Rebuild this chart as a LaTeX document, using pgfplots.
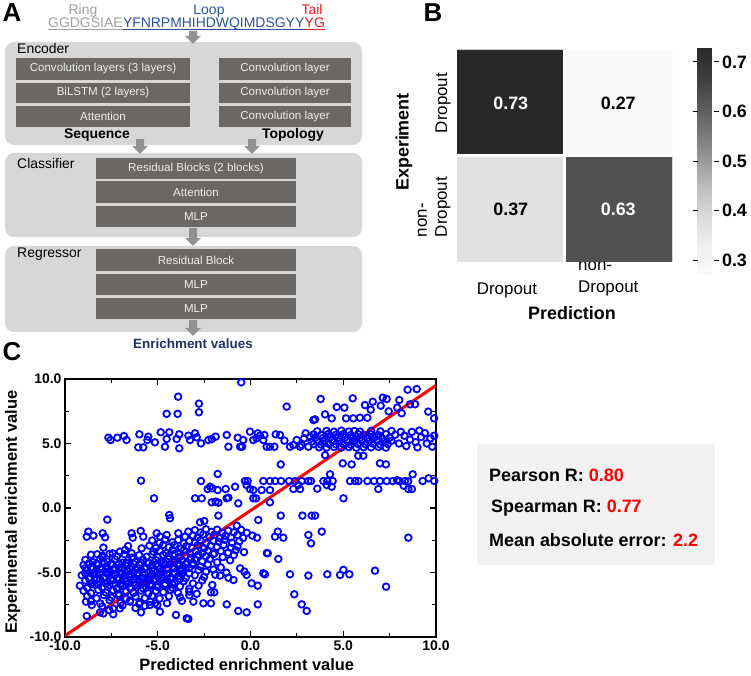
\documentclass[border=0pt]{standalone}
\usepackage{pgfplots}
\pgfplotsset{compat=1.18}
\usepackage{fontspec}
\setmainfont{Liberation Sans}
\definecolor{panelbg}{RGB}{215,215,215}
\definecolor{darkbox}{RGB}{106,103,101}
\definecolor{boxtxt}{RGB}{238,238,238}
\definecolor{arrowgray}{RGB}{145,145,145}
\definecolor{ringgray}{RGB}{160,160,160}
\definecolor{loopblue}{RGB}{40,80,160}
\definecolor{tailred}{RGB}{235,25,25}
\definecolor{navy}{RGB}{30,50,105}
\definecolor{statbg}{RGB}{242,242,242}
\definecolor{ptblue}{RGB}{0,0,255}
\newcommand\dbox[5]{\fill[darkbox] (#1,#2) rectangle (#3,#4);
  \node[text=boxtxt, inner sep=0, font=\fontsize{11.6}{13}\selectfont] at ({(#1+#3)/2},{(#2+#4)/2}) {#5};}
\newcommand\garrow[3]{\fill[arrowgray] ({#1-4},#2) -- ({#1+4},#2) -- ({#1+4},{#3-8}) -- ({#1+8},{#3-8}) -- (#1,#3) -- ({#1-8},{#3-8}) -- ({#1-4},{#3-8}) -- cycle;}
\begin{document}
\begin{tikzpicture}
\useasboundingbox (0,0) rectangle (751bp,676bp);
\begin{scope}[x=1bp,y=-1bp,yshift=676bp]
% ---------------- Panel A ----------------
\node[font=\fontsize{26}{28}\selectfont\bfseries, inner sep=0] at (12,13) {A};
\node[inner sep=0, anchor=base, text=ringgray, font=\fontsize{14}{16}\selectfont] at (83,15) {Ring};
\node[inner sep=0, anchor=base, text=loopblue, font=\fontsize{14}{16}\selectfont] at (209,15) {Loop};
\node[inner sep=0, anchor=base, text=tailred, font=\fontsize{14}{16}\selectfont] at (312,15) {Tail};
\node[anchor=base west, inner sep=0, text=ringgray, font=\fontsize{14}{16}\selectfont] (s1) at (48,28) {GGDGSIAE};
\node[anchor=base west, inner sep=0, text=loopblue, font=\fontsize{14}{16}\selectfont] (s2) at (s1.base east) {YFNRPMHIHDWQIMDSGYY};
\node[anchor=base west, inner sep=0, text=tailred, font=\fontsize{14}{16}\selectfont] (s3) at (s2.base east) {YG};
\draw[ringgray, line width=1bp] ([yshift=-2bp]s1.base west) -- ([yshift=-2bp]s1.base east);
\draw[loopblue, line width=1bp] ([yshift=-2bp]s2.base west) -- ([yshift=-2bp]s2.base east);
\draw[tailred, line width=1bp] ([yshift=-2bp]s3.base west) -- ([yshift=-2bp]s3.base east);
\fill[panelbg, rounded corners=9bp] (5,42) rectangle (362,145);
\fill[panelbg, rounded corners=9bp] (5,153) rectangle (362,237);
\fill[panelbg, rounded corners=9bp] (5,246) rectangle (362,332);
\dbox{16}{58}{190}{80}{Convolution layers (3 layers)}
\dbox{16}{83}{190}{103}{BiLSTM (2 layers)}
\dbox{16}{106}{190}{127}{Attention}
\dbox{219}{58}{351}{80}{Convolution layer}
\dbox{219}{83}{351}{103}{Convolution layer}
\dbox{219}{106}{351}{127}{Convolution layer}
\dbox{96}{158}{296}{179}{Residual Blocks (2 blocks)}
\dbox{96}{181}{296}{203}{Attention}
\dbox{96}{206}{296}{227}{MLP}
\dbox{96}{249}{296}{271}{Residual Block}
\dbox{96}{274}{296}{295}{MLP}
\dbox{96}{298}{296}{319}{MLP}
\garrow{193}{31}{44}
\garrow{140}{139}{154}
\garrow{252}{139}{154}
\garrow{193}{228}{246}
\garrow{193}{320}{336}
\node[anchor=west, inner sep=0, font=\fontsize{14}{16}\selectfont] at (17,49) {Encoder};
\node[anchor=west, inner sep=0, font=\fontsize{14}{16}\selectfont] at (17,164) {Classifier};
\node[anchor=west, inner sep=0, font=\fontsize{14}{16}\selectfont] at (17,254) {Regressor};
\node[inner sep=0, font=\fontsize{14}{16}\selectfont\bfseries] at (97,135) {Sequence};
\node[inner sep=0, font=\fontsize{14}{16}\selectfont\bfseries] at (293,135) {Topology};
\node[inner sep=0, text=navy, font=\fontsize{13.5}{15}\selectfont\bfseries] at (193,344) {Enrichment values};
% ---------------- Panel B texts ----------------
\node[font=\fontsize{26}{28}\selectfont\bfseries, inner sep=0] at (433,13) {B};
\node[rotate=90, inner sep=0, font=\fontsize{18}{20}\selectfont\bfseries] at (404,142) {Experiment};
\node[rotate=90, inner sep=0, font=\fontsize{17}{20}\selectfont] at (443,103) {Dropout};
\node[rotate=90, inner sep=0, align=left, font=\fontsize{17}{20}\selectfont] at (434,207) {non-\\Dropout};
\node[inner sep=0, font=\fontsize{17}{20}\selectfont] at (507,290) {Dropout};
\node[anchor=west, inner sep=0, align=left, font=\fontsize{17}{22}\selectfont] at (578,279) {non-\\Dropout};
\node[inner sep=0, font=\fontsize{18}{20}\selectfont\bfseries] at (572,313) {Prediction};
% ---------------- Panel C texts ----------------
\node[font=\fontsize{26}{28}\selectfont\bfseries, inner sep=0] at (12,352) {C};
\fill[statbg] (477,444) rectangle (715,565);
\node[anchor=base west, inner sep=0, font=\fontsize{18}{20}\selectfont\bfseries] at (489,482) {Pearson R: \textcolor{red}{0.80}};
\node[anchor=base west, inner sep=0, font=\fontsize{18}{20}\selectfont\bfseries] at (491,513) {Spearman R: \textcolor{red}{0.77}};
\node[anchor=base west, inner sep=0, font=\fontsize{18}{20}\selectfont\bfseries] at (489,547) {Mean absolute error: \textcolor{red}{2.2}};
\end{scope}

% ---------------- Panel B heatmap ----------------
\begin{axis}[at={(457bp,414bp)}, anchor=south west, width=215bp, height=212bp, scale only axis,
  xmin=-0.5, xmax=1.5, ymin=-0.5, ymax=1.5, axis line style={draw=none}, xtick=\empty, ytick=\empty,
  colormap={imggreys}{rgb255=(250,250,250) rgb255=(240,240,240) rgb255=(220,220,220) rgb255=(192,192,192) rgb255=(155,155,155) rgb255=(120,120,120) rgb255=(88,88,88) rgb255=(60,60,60) rgb255=(40,40,40)},
  point meta min=0.27, point meta max=0.73,
  colorbar,
  colorbar style={at={(parent axis.north east)}, anchor=north west, xshift=17bp, yshift=3bp,
    width=16bp, height=228bp, scale only axis, axis line style={draw=none},
    ytick={0.3,0.4,0.5,0.6,0.7}, yticklabels={0.3,0.4,0.5,0.6,0.7},
    yticklabel style={font=\fontsize{18}{20}\selectfont\bfseries},
    major tick length=5bp, tick align=outside, ytick style={black, line width=0.8bp},
    yticklabel pos=right}]
\addplot[matrix plot*, mesh/cols=2, point meta=explicit] table[meta=c, row sep=\\] {x y c\\ 0 0 0.37\\ 1 0 0.63\\ 0 1 0.73\\ 1 1 0.27\\};
\draw[white, line width=3bp] (axis cs:0.5,-0.5) -- (axis cs:0.5,1.5);
\draw[white, line width=3bp] (axis cs:-0.5,0.5) -- (axis cs:1.5,0.5);
\node[text=white, font=\fontsize{18}{20}\selectfont\bfseries] at (axis cs:0,1) {0.73};
\node[text=black, font=\fontsize{18}{20}\selectfont\bfseries] at (axis cs:1,1) {0.27};
\node[text=black, font=\fontsize{18}{20}\selectfont\bfseries] at (axis cs:0,0) {0.37};
\node[text=white, font=\fontsize{18}{20}\selectfont\bfseries] at (axis cs:1,0) {0.63};
\end{axis}

% ---------------- Panel C scatter ----------------
\begin{axis}[at={(65bp,39bp)}, anchor=south west, width=371bp, height=258bp, scale only axis,
  xmin=-10, xmax=10, ymin=-10, ymax=10,
  xtick={-10,-5,0,5,10}, ytick={-10,-5,0,5,10},
  xticklabels={-10.0,-5.0,0.0,5.0,10.0}, yticklabels={-10.0,-5.0,0.0,5.0,10.0},
  minor tick num=1, tick align=inside, xtick pos=both, ytick pos=both,
  major tick length=6bp, minor tick length=4bp,
  axis line style={line width=1.8bp},
  every tick/.append style={black, line width=1.1bp},
  ticklabel style={font=\fontsize{14}{15}\selectfont\bfseries},
  xlabel={Predicted enrichment value}, ylabel={Experimental enrichment value},
  label style={font=\fontsize{16.5}{18}\selectfont\bfseries},
  xlabel style={at={(axis description cs:0.49,-0.108)}, anchor=center},
  ylabel style={at={(axis description cs:-0.141,0.485)}, anchor=center}]
\addplot[only marks, mark=o, mark size=3.3bp, ptblue, mark options={line width=1.8bp}] table[row sep=\\] {x y\\
-0.5 9.74\\ -3.9 8.63\\ -4.52 7.3\\ -3.93 7.3\\ -2.78 8.09\\ -2.78 7.42\\ 1.95 7.86\\ 3.39 6.82\\ 3.78 8.45\\ 3.48 6.87\\
4.02 7.26\\ 4.38 6.95\\ 4.65 7.83\\ 5.06 7.78\\ 5.51 8.5\\ 5.15 6.95\\ 5.54 6.95\\ 5.9 7.0\\ 6.3 7.0\\ 6.17 7.98\\
6.59 8.24\\ 6.48 7.62\\ 7.02 7.93\\ 7.13 8.55\\ 7.34 8.45\\ 7.91 7.78\\ 8.02 8.37\\ 8.15 7.34\\ 8.47 9.17\\ 8.96 9.22\\
8.6 8.04\\ 8.87 8.04\\ 9.58 7.47\\ 9.9 6.95\\ 7.45 7.49\\
-7.66 5.45\\ -7.54 5.27\\ -7.18 5.45\\ -6.82 5.58\\ -6.68 5.27\\ -5.99 5.71\\ -6.05 4.7\\ -5.78 4.7\\ -5.51 5.53\\ -5.56 5.27\\
-5.15 5.09\\ -4.84 5.87\\ -4.38 5.87\\ -4.52 5.35\\ -4.61 4.75\\ -3.98 5.35\\ -3.84 5.71\\ -3.84 4.63\\ -3.35 5.61\\ -3.26 5.27\\
-2.99 5.79\\ -2.9 5.48\\ -2.67 5.01\\ -2.27 5.27\\ -2.09 5.35\\ -1.88 5.53\\ -1.28 5.66\\ -1.19 4.75\\ -0.69 5.45\\ -0.56 4.75\\
-0.45 4.75\\ -0.39 5.27\\ -0.03 5.92\\ 0.15 5.27\\ 0.33 5.4\\ 0.39 5.79\\ 0.51 5.61\\ 0.69 5.27\\ 0.75 5.66\\ 0.87 4.75\\
1.05 4.75\\ 1.29 4.75\\ 1.36 5.71\\ 1.59 5.66\\ 1.83 5.22\\ 2.13 4.75\\ 2.31 4.88\\ 2.49 5.27\\ 2.67 4.75\\ 2.76 4.88\\
2.9 5.4\\ 2.97 5.79\\ 3.12 4.75\\ 3.3 5.14\\ 3.21 5.53\\
3.6 5.95\\ 4.1 5.98\\ 4.5 5.92\\ 4.9 6.0\\ 5.3 5.93\\ 5.6 5.97\\ 5.9 5.92\\ 6.5 5.98\\ 7.0 5.94\\ 7.6 5.97\\
3.4 5.7\\ 3.8 5.66\\ 4.2 5.74\\ 4.6 5.68\\ 5.0 5.72\\ 5.4 5.66\\ 5.8 5.73\\ 6.1 5.68\\ 6.5 5.71\\ 6.9 5.65\\ 7.3 5.72\\ 7.8 5.68\\
3.5 5.45\\ 3.9 5.42\\ 4.3 5.48\\ 4.7 5.43\\ 5.1 5.47\\ 5.5 5.41\\ 5.9 5.46\\ 6.3 5.44\\ 6.7 5.49\\ 7.1 5.42\\ 7.5 5.46\\
3.6 5.2\\ 4.0 5.17\\ 4.4 5.23\\ 4.8 5.18\\ 5.2 5.22\\ 5.6 5.16\\ 6.0 5.21\\ 6.4 5.19\\ 6.8 5.24\\ 7.2 5.17\\ 7.6 5.21\\
3.4 4.95\\ 3.8 4.92\\ 4.2 4.98\\ 4.6 4.93\\ 5.0 4.97\\ 5.4 4.91\\ 5.8 4.96\\ 6.2 4.94\\ 6.6 4.99\\ 7.0 4.92\\ 7.4 4.96\\
3.7 4.7\\ 4.1 4.68\\ 4.5 4.73\\ 4.9 4.69\\ 5.3 4.72\\ 5.7 4.67\\ 6.1 4.71\\ 6.5 4.7\\ 6.9 4.74\\ 7.3 4.68\\
8.1 5.9\\ 8.3 5.6\\ 8.4 4.8\\ 8.6 5.3\\ 8.7 5.9\\ 8.9 5.1\\ 9.0 4.7\\ 9.2 5.5\\ 9.4 5.8\\ 9.5 5.0\\ 9.7 5.4\\ 9.8 4.75\\ 9.9 5.6\\ 8.0 5.0\\ 9.1 6.0\\
4.02 4.1\\ 4.97 3.46\\ 5.45 3.38\\ 5.81 4.05\\ 6.08 4.05\\ 6.98 3.46\\ 7.3 3.38\\ 1.63 3.38\\
-5.9 2.12\\ -2.67 2.09\\ -1.77 2.64\\ -2.18 1.65\\ -2.06 1.52\\ -2.31 1.47\\ -1.77 1.39\\ -1.34 1.47\\ -0.83 1.65\\ -0.3 2.09\\
-0.15 2.09\\ -0.21 1.78\\ -0.03 1.47\\ 0.15 1.39\\ 0.6 1.39\\ 0.69 2.09\\ 1.05 2.09\\ 1.32 2.09\\ 1.65 2.09\\ 1.05 1.39\\
2.08 2.09\\ 2.4 2.09\\ 2.58 1.78\\ 2.76 2.09\\ 2.31 1.47\\ 2.67 1.47\\ 3.12 2.09\\ 3.26 2.09\\ 3.93 2.09\\ 4.14 2.09\\
4.43 2.09\\ 3.6 1.5\\ 4.11 1.78\\ 4.38 1.65\\ 4.29 2.61\\ 5.37 2.09\\ 5.64 2.09\\ 5.82 2.09\\ 6.3 2.09\\ 6.66 2.09\\
6.98 2.09\\ 7.34 2.09\\ 7.67 2.09\\ 8.03 2.09\\ 8.33 2.09\\ 9.28 2.09\\ 6.89 1.47\\ 8.51 1.47\\ 8.74 2.61\\ 5.01 0.75\\
7.9 2.15\\ 8.5 2.07\\ 9.6 2.3\\ 9.9 2.1\\ 8.26 1.73\\ 8.7 1.47\\
-5.2 0.75\\ -2.99 0.75\\ -2.63 0.75\\ -2.09 0.44\\ -1.88 0.49\\ -1.73 0.41\\ -1.28 0.75\\ -1.19 0.8\\ -0.66 0.36\\ 0.15 0.75\\ 0.3 0.75\\ 1.05 0.44\\
-1.73 -0.59\\ -2.49 -1.01\\ -0.74 -1.37\\ 0.42 -0.93\\ 1.63 -0.59\\ 2.8 -0.59\\ 3.3 -0.59\\ 1.32 -2.22\\ 1.47 -1.83\\ 1.77 -2.3\\
3.12 -2.09\\ 3.26 -2.74\\ 3.84 -1.83\\ 0.93 -3.51\\ 1.5 -3.95\\ 2.13 -5.14\\ 3.12 -5.24\\ 0.69 -5.06\\ 0.78 -5.14\\ -0.56 -4.68\\
-0.33 -4.93\\ -0.21 -5.19\\ 0.06 -5.84\\ 0.39 -6.02\\ -1.19 -5.4\\ -0.92 -5.58\\ -1.64 -5.24\\ -2.06 -5.97\\ -2.13 -6.54\\ -1.95 -6.54\\
-2.54 -7.39\\ -2.13 -7.39\\ -3.08 -7.26\\ -1.28 -7.47\\ -0.66 -7.98\\ -0.21 -8.09\\ 0.39 -7.47\\ -3.35 -8.6\\ 2.36 -6.69\\ 2.76 -7.47\\
3.03 -7.98\\ 4.14 -5.14\\ 4.83 -5.19\\ 5.01 -4.8\\ 5.33 -5.14\\ 6.71 -4.86\\ 7.31 -6.1\\ 8.51 -2.3\\ 3.48 -0.59\\
-4.38 -0.54\\ -4.34 -0.8\\ -7.72 -0.9\\ -2.72 -1.11\\ 0.88 -3.49\\
-8.87 -7.26\\ -8.83 -8.37\\ -8.56 -7.52\\ -8.11 -8.09\\ -7.93 -8.17\\ -7.61 -7.91\\ -7.4 -8.24\\ -7.04 -7.78\\ -6.5 -7.26\\ -5.9 -8.09\\
-5.96 -7.31\\ -5.42 -7.52\\ -5.15 -7.39\\ -4.88 -8.04\\ -5.02 -7.52\\ -4.02 -8.29\\ -3.44 -8.55\\
-8.74 -1.83\\ -7.97 -1.96\\ -5.92 -1.78\\ -5.06 -1.96\\ -3.89 -1.96\\ -3.35 -1.83\\ -3.0 -1.72\\ -2.7 -1.9\\ -2.4 -1.65\\ -2.1 -1.85\\
-1.8 -1.68\\ -1.5 -1.94\\ -1.2 -1.76\\ -0.9 -1.88\\ -0.5 -1.7\\ -0.2 -1.92\\
-8.83 -2.22\\ -8.47 -2.14\\ -7.84 -2.27\\ -6.41 -1.96\\ -6.35 -2.3\\ -5.78 -2.22\\ -4.88 -2.22\\ -4.52 -2.09\\ -3.53 -2.22\\ -3.1 -2.12\\
-2.85 -2.3\\ -2.55 -2.05\\ -2.2 -2.25\\ -1.95 -2.08\\ -1.65 -2.34\\ -1.35 -2.16\\ -1.05 -2.28\\ -0.7 -2.1\\ -0.4 -2.32\\ 0.1 -2.14\\ 0.35 -2.3\\
-5.3 -2.52\\ -4.9 -2.7\\ -4.6 -2.45\\ -4.2 -2.65\\ -3.9 -2.48\\ -3.6 -2.74\\ -3.3 -2.56\\ -3.0 -2.68\\ -2.7 -2.5\\ -2.4 -2.72\\
-2.0 -2.54\\ -1.7 -2.62\\ -1.4 -2.46\\ -1.0 -2.69\\ -0.6 -2.58\\
-7.93 -3.07\\ -6.6 -2.95\\ -5.45 -2.92\\ -5.1 -3.1\\ -4.7 -2.85\\ -4.4 -3.05\\ -4.1 -2.88\\ -3.75 -3.14\\ -3.45 -2.96\\ -3.15 -3.08\\
-2.85 -2.9\\ -2.5 -3.12\\ -2.15 -2.94\\ -1.8 -3.02\\ -1.45 -2.86\\ -1.05 -3.09\\ -0.7 -2.98\\
-8.26 -3.59\\ -7.97 -3.7\\ -7.43 -3.51\\ -7.04 -3.38\\ -6.77 -3.25\\ -6.41 -3.51\\ -5.87 -3.13\\ -5.24 -3.38\\ -4.9 -3.32\\ -4.55 -3.5\\
-4.2 -3.25\\ -3.9 -3.45\\ -3.6 -3.28\\ -3.25 -3.54\\ -2.95 -3.36\\ -2.6 -3.48\\ -2.3 -3.3\\ -1.95 -3.52\\ -1.6 -3.34\\ -1.2 -3.46\\ -0.8 -3.27\\ -0.35 -3.42\\
-8.6 -3.62\\ -8.0 -3.8\\ -7.6 -3.55\\ -7.2 -3.75\\ -6.8 -3.58\\ -6.4 -3.84\\ -6.0 -3.66\\ -5.6 -3.78\\ -5.3 -3.6\\ -5.0 -3.82\\
-4.7 -3.64\\ -4.4 -3.72\\ -4.1 -3.56\\ -3.8 -3.79\\ -3.5 -3.68\\ -3.2 -3.85\\ -2.8 -3.61\\ -2.4 -3.74\\ -2.0 -3.57\\ -1.5 -3.81\\ -0.9 -3.65\\
-8.9 -4.02\\ -8.5 -4.2\\ -8.1 -3.95\\ -7.7 -4.15\\ -7.3 -3.98\\ -6.9 -4.24\\ -6.6 -4.06\\ -6.2 -4.18\\ -5.8 -4.0\\ -5.5 -4.22\\
-5.1 -4.04\\ -4.8 -4.12\\ -4.4 -3.96\\ -4.1 -4.19\\ -3.7 -4.08\\ -3.4 -4.25\\ -3.0 -4.01\\ -2.6 -4.14\\ -2.2 -3.97\\ -1.8 -4.21\\ -1.1 -4.05\\
-9.0 -4.42\\ -8.6 -4.6\\ -8.2 -4.35\\ -7.8 -4.55\\ -7.5 -4.38\\ -7.1 -4.64\\ -6.7 -4.46\\ -6.4 -4.58\\ -6.0 -4.4\\ -5.7 -4.62\\
-5.3 -4.44\\ -5.0 -4.52\\ -4.6 -4.36\\ -4.2 -4.59\\ -3.9 -4.48\\ -3.5 -4.65\\ -3.1 -4.41\\ -2.7 -4.54\\ -2.3 -4.37\\ -1.6 -4.61\\
-8.8 -4.82\\ -8.4 -5.0\\ -8.0 -4.75\\ -7.7 -4.95\\ -7.3 -4.78\\ -7.0 -5.04\\ -6.6 -4.86\\ -6.3 -4.98\\ -5.9 -4.8\\ -5.5 -5.02\\
-5.2 -4.84\\ -4.8 -4.92\\ -4.5 -4.76\\ -4.1 -4.99\\ -3.7 -4.88\\ -3.3 -5.05\\ -2.8 -4.81\\ -2.4 -4.94\\ -2.0 -4.77\\ -1.3 -5.01\\
-9.1 -5.22\\ -8.7 -5.4\\ -8.3 -5.15\\ -7.9 -5.35\\ -7.5 -5.18\\ -7.2 -5.44\\ -6.8 -5.26\\ -6.5 -5.38\\ -6.1 -5.2\\ -5.8 -5.42\\
-5.4 -5.24\\ -5.0 -5.32\\ -4.7 -5.16\\ -4.3 -5.39\\ -3.9 -5.28\\ -3.5 -5.45\\ -3.0 -5.21\\ -2.5 -5.34\\ -1.9 -5.17\\
-8.9 -5.62\\ -8.5 -5.8\\ -8.1 -5.55\\ -7.7 -5.75\\ -7.4 -5.58\\ -7.0 -5.84\\ -6.7 -5.66\\ -6.3 -5.78\\ -6.0 -5.6\\ -5.6 -5.82\\
-5.2 -5.64\\ -4.9 -5.72\\ -4.5 -5.56\\ -4.1 -5.79\\ -3.6 -5.68\\ -3.1 -5.85\\ -2.6 -5.61\\
-9.2 -6.02\\ -8.8 -6.2\\ -8.4 -5.95\\ -8.0 -6.15\\ -7.6 -5.98\\ -7.2 -6.24\\ -6.9 -6.06\\ -6.5 -6.18\\ -6.2 -6.0\\ -5.8 -6.22\\
-5.4 -6.04\\ -5.0 -6.12\\ -4.6 -5.96\\ -4.2 -6.19\\ -3.8 -6.08\\ -3.3 -6.25\\ -2.8 -6.01\\
-9.0 -6.42\\ -8.6 -6.6\\ -8.2 -6.35\\ -7.8 -6.55\\ -7.4 -6.38\\ -7.1 -6.64\\ -6.7 -6.46\\ -6.3 -6.58\\ -5.9 -6.4\\ -5.5 -6.62\\
-5.1 -6.44\\ -4.7 -6.52\\ -4.3 -6.36\\ -3.9 -6.59\\ -3.3 -6.48\\ -2.9 -6.65\\
-8.8 -6.82\\ -8.3 -7.0\\ -7.9 -6.75\\ -7.5 -6.95\\ -7.1 -6.78\\ -6.7 -7.04\\ -6.2 -6.86\\ -5.7 -6.98\\ -5.3 -6.8\\ -4.9 -7.02\\ -4.4 -6.84\\ -3.8 -6.92\\ -3.3 -6.76\\
-8.6 -7.22\\ -8.1 -7.4\\ -7.6 -7.15\\ -7.0 -7.35\\ -6.5 -7.18\\ -6.0 -7.44\\ -5.4 -7.26\\ -4.5 -7.38\\ -3.7 -7.2\\
-8.0 -7.62\\ -7.4 -7.8\\ -6.9 -7.55\\ -6.2 -7.75\\ -5.7 -7.58\\
-8.7 -4.28\\ -8.3 -4.34\\ -7.9 -4.25\\ -7.5 -4.31\\ -7.1 -4.36\\ -6.7 -4.27\\ -6.3 -4.33\\ -5.9 -4.24\\ -5.5 -4.3\\ -5.1 -4.37\\ -4.7 -4.26\\ -4.3 -4.32\\ -3.9 -4.29\\ -3.5 -4.35\\ -3.1 -4.27\\
-8.9 -4.66\\ -8.5 -4.72\\ -8.1 -4.68\\ -7.7 -4.75\\ -7.3 -4.64\\ -6.9 -4.7\\ -6.5 -4.73\\ -6.1 -4.65\\ -5.7 -4.71\\ -5.3 -4.67\\ -4.9 -4.74\\ -4.5 -4.63\\ -4.1 -4.69\\ -3.7 -4.72\\ -3.3 -4.66\\
-8.9 -5.08\\ -8.5 -5.13\\ -8.1 -5.05\\ -7.7 -5.11\\ -7.3 -5.15\\ -6.9 -5.06\\ -6.5 -5.12\\ -6.1 -5.04\\ -5.7 -5.1\\ -5.3 -5.14\\ -4.9 -5.07\\ -4.5 -5.12\\ -4.1 -5.05\\ -3.7 -5.11\\
-8.7 -5.48\\ -8.3 -5.53\\ -7.9 -5.46\\ -7.5 -5.51\\ -7.1 -5.55\\ -6.7 -5.47\\ -6.3 -5.52\\ -5.9 -5.45\\ -5.5 -5.5\\ -5.1 -5.54\\ -4.7 -5.47\\ -4.3 -5.52\\ -3.8 -5.49\\
-8.6 -5.88\\ -8.2 -5.93\\ -7.8 -5.86\\ -7.4 -5.91\\ -7.0 -5.95\\ -6.6 -5.87\\ -6.2 -5.92\\ -5.8 -5.85\\ -5.4 -5.9\\ -5.0 -5.94\\ -4.6 -5.87\\ -4.2 -5.92\\
};
\addplot[red, line width=3bp] coordinates {(-10,-9.9) (10,9.5)};
\end{axis}
\end{tikzpicture}
\end{document}
